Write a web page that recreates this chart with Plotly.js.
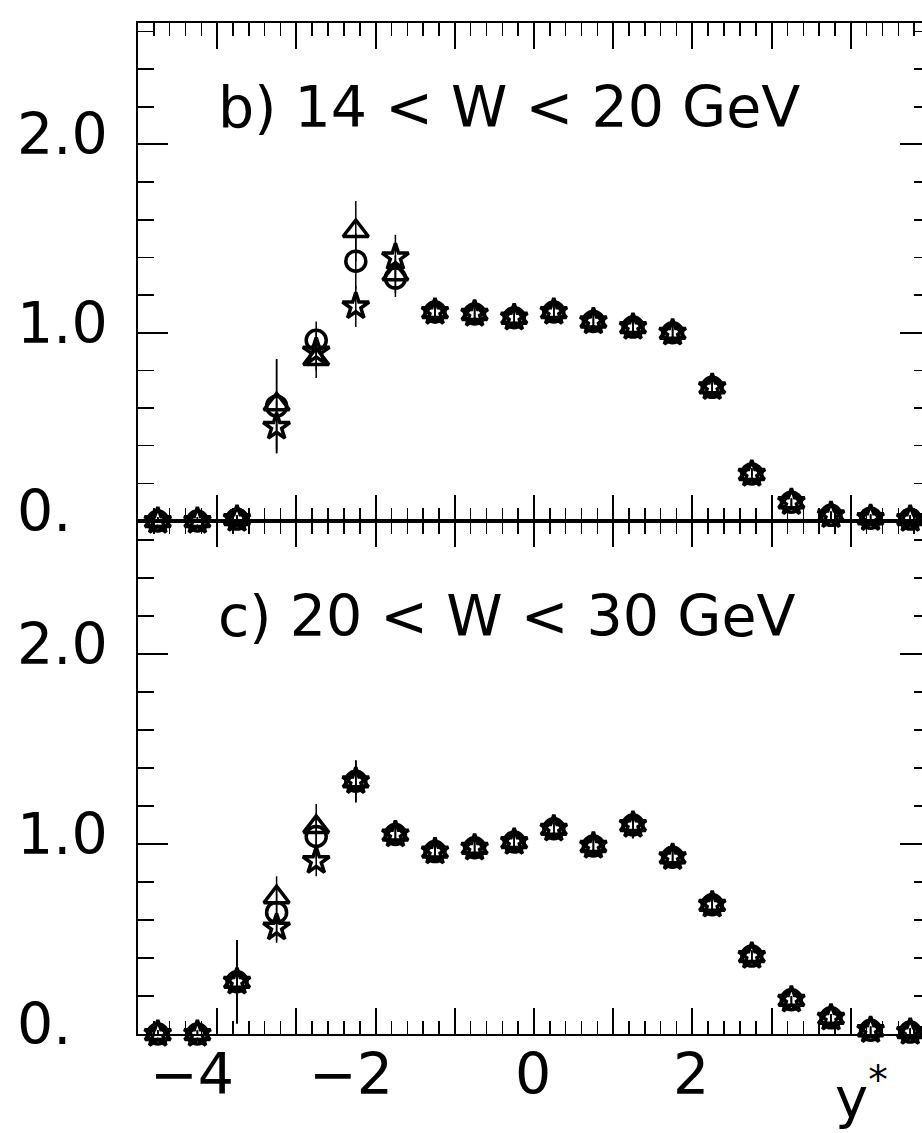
<!DOCTYPE html>
<html><head><meta charset="utf-8">
<script src="https://cdn.plot.ly/plotly-3.0.1.min.js"></script>
<style>
html,body{margin:0;padding:0;overflow:hidden;background:#fff;width:922px;height:1133px}
#chart{width:930px;height:1133px}
</style>
</head><body><div id="chart"></div>
<script>
// rapidity bins y*
const ystar = [-4.75,-4.25,-3.75,-3.25,-2.75,-2.25,-1.75,-1.25,-0.75,-0.25,0.25,0.75,1.25,1.75,2.25,2.75,3.25,3.75,4.25,4.75];

// panel b) 14 < W < 20 GeV
const bCircle    = [0,0,0.01,0.61,0.96,1.38,1.29,1.11,1.10,1.08,1.11,1.06,1.03,1.00,0.71,0.25,0.10,0.03,0.015,0.01];
const bCircleErr = [0.02,0.02,0.02,0.25,0.10,0.15,0.10,0.06,0.05,0.05,0.05,0.05,0.05,0.05,0.05,0.03,0.02,0.02,0.02,0.02];
const bTriangle    = [0,0,0.01,0.62,0.86,1.54,1.31,1.11,1.10,1.08,1.11,1.06,1.03,1.00,0.71,0.25,0.10,0.03,0.015,0.01];
const bTriangleErr = [0.02,0.02,0.02,0.24,0.10,0.16,0.10,0.06,0.05,0.05,0.05,0.05,0.05,0.05,0.05,0.03,0.02,0.02,0.02,0.02];
const bStar    = [0,0,0.01,0.50,0.90,1.14,1.40,1.11,1.10,1.08,1.11,1.06,1.03,1.00,0.71,0.25,0.10,0.03,0.015,0.01];
const bStarErr = [0.02,0.02,0.02,0.14,0.10,0.11,0.12,0.06,0.05,0.05,0.05,0.05,0.05,0.05,0.05,0.03,0.02,0.02,0.02,0.02];

// panel c) 20 < W < 30 GeV
const cCircle    = [0,0,0.275,0.64,1.04,1.33,1.05,0.96,0.98,1.01,1.08,0.99,1.10,0.93,0.68,0.41,0.18,0.085,0.02,0.01];
const cCircleErr = [0.02,0.02,0.22,0.15,0.12,0.11,0.06,0.05,0.05,0.05,0.05,0.05,0.07,0.06,0.05,0.03,0.02,0.02,0.02,0.02];
const cTriangle    = [0,0,0.275,0.72,1.09,1.33,1.05,0.96,0.98,1.01,1.08,0.99,1.10,0.93,0.68,0.41,0.18,0.085,0.02,0.01];
const cTriangleErr = [0.02,0.02,0.22,0.11,0.12,0.11,0.06,0.05,0.05,0.05,0.05,0.05,0.07,0.06,0.05,0.03,0.02,0.02,0.02,0.02];
const cStar    = [0,0,0.275,0.56,0.91,1.33,1.05,0.96,0.98,1.01,1.08,0.99,1.10,0.93,0.68,0.41,0.18,0.085,0.02,0.01];
const cStarErr = [0.02,0.02,0.22,0.08,0.08,0.11,0.06,0.05,0.05,0.05,0.05,0.05,0.07,0.06,0.05,0.03,0.02,0.02,0.02,0.02];

// tick labels
const xTickVals = [-4,-2,0,2];
const xTickText = ["\u22124","\u22122","0","2"];
const yTickVals = [0,1,2];
const yTickText = ["0.","1.0","2.0"];
const panelLabels = ["b) 14 < W < 20 GeV","c) 20 < W < 30 GeV"];
const xTitle = "y<sup>*</sup>";

const FONT = "DejaVu Sans";
function series(x, y, err, symbol, size, xa, ya){
  return {
    type:'scatter', mode:'markers', x:x, y:y, xaxis:xa, yaxis:ya, cliponaxis:false,
    marker:{symbol:symbol, size:size, color:'#000', line:{color:'#000', width:3.5}},
    error_y:{type:'data', array:err, visible:true, color:'#000', thickness:1.5, width:0},
    showlegend:false, hoverinfo:'skip'
  };
}
const traces = [
  series(ystar, bCircle, bCircleErr, 'circle-open', 20, 'x2','y2'),
  series(ystar, bTriangle, bTriangleErr, 'triangle-up-open', 22, 'x2','y2'),
  series(ystar, bStar, bStarErr, 'star-open', 20, 'x2','y2'),
  series(ystar, cCircle, cCircleErr, 'circle-open', 20, 'x','y'),
  series(ystar, cTriangle, cTriangleErr, 'triangle-up-open', 22, 'x','y'),
  series(ystar, cStar, cStarErr, 'star-open', 20, 'x','y')
];

function xax(anchor){
  return {anchor:anchor, domain:[0,1], range:[-5,5], tick0:-5, dtick:1, ticks:'inside', ticklen:26, tickwidth:2,
    tickcolor:'#000', showticklabels:false, showline:true, linewidth:2, linecolor:'#000', mirror:'allticks',
    showgrid:false, zeroline:false,
    minor:{dtick:0.2, ticks:'inside', ticklen:13, tickwidth:1.5, tickcolor:'#000', showgrid:false}};
}
function yax(anchor, domain, top){
  return {anchor:anchor, domain:domain, range:[0, top], tick0:0, dtick:1, ticks:'inside', ticklen:30, tickwidth:2,
    tickcolor:'#000', showticklabels:false, showline:true, linewidth:2, linecolor:'#000', mirror:'allticks',
    showgrid:false, zeroline:false,
    minor:{dtick:0.2, ticks:'inside', ticklen:16, tickwidth:1.5, tickcolor:'#000', showgrid:false}};
}
const split = 513/1011;
const annotations = [];
const fnt = {family:FONT, size:57, color:'#000'};
['y2','y'].forEach(function(ya){
  yTickVals.forEach(function(v,i){
    annotations.push({xref:'paper', yref:ya, x:-0.155, y:v, xanchor:'left', yanchor:'middle', yshift:10,
      text:yTickText[i], showarrow:false, font:fnt});
  });
});
annotations.push({xref:'x2', yref:'y2', x:-4.02, y:2.2, xanchor:'left', yanchor:'middle', text:panelLabels[0], showarrow:false, font:fnt});
annotations.push({xref:'x', yref:'y', x:-4.02, y:2.2, xanchor:'left', yanchor:'middle', text:panelLabels[1], showarrow:false, font:fnt});
xTickVals.forEach(function(v,i){
  annotations.push({xref:'x', yref:'y', x:v, y:0, xanchor:'right', xshift:19, yanchor:'middle', yshift:-40,
    text:xTickText[i], showarrow:false, font:fnt});
});
annotations.push({xref:'x', yref:'y', x:3.78, y:0, xanchor:'left', yanchor:'middle', yshift:-59,
  text:xTitle, showarrow:false, font:{family:FONT, size:56, color:'#000'}});

const layout = {
  width:930, height:1133, margin:{l:138, r:0, t:23, b:99, pad:0},
  paper_bgcolor:'#fff', plot_bgcolor:'#fff', showlegend:false,
  xaxis:xax('y'), xaxis2:Object.assign(xax('y2'), {matches:'x'}),
  yaxis:yax('x', [0, split], 2.70), yaxis2:yax('x2', [split, 1], 2.645),
  annotations:annotations
};
Plotly.newPlot('chart', traces, layout, {staticPlot:true, displayModeBar:false});
</script>
</body></html>
